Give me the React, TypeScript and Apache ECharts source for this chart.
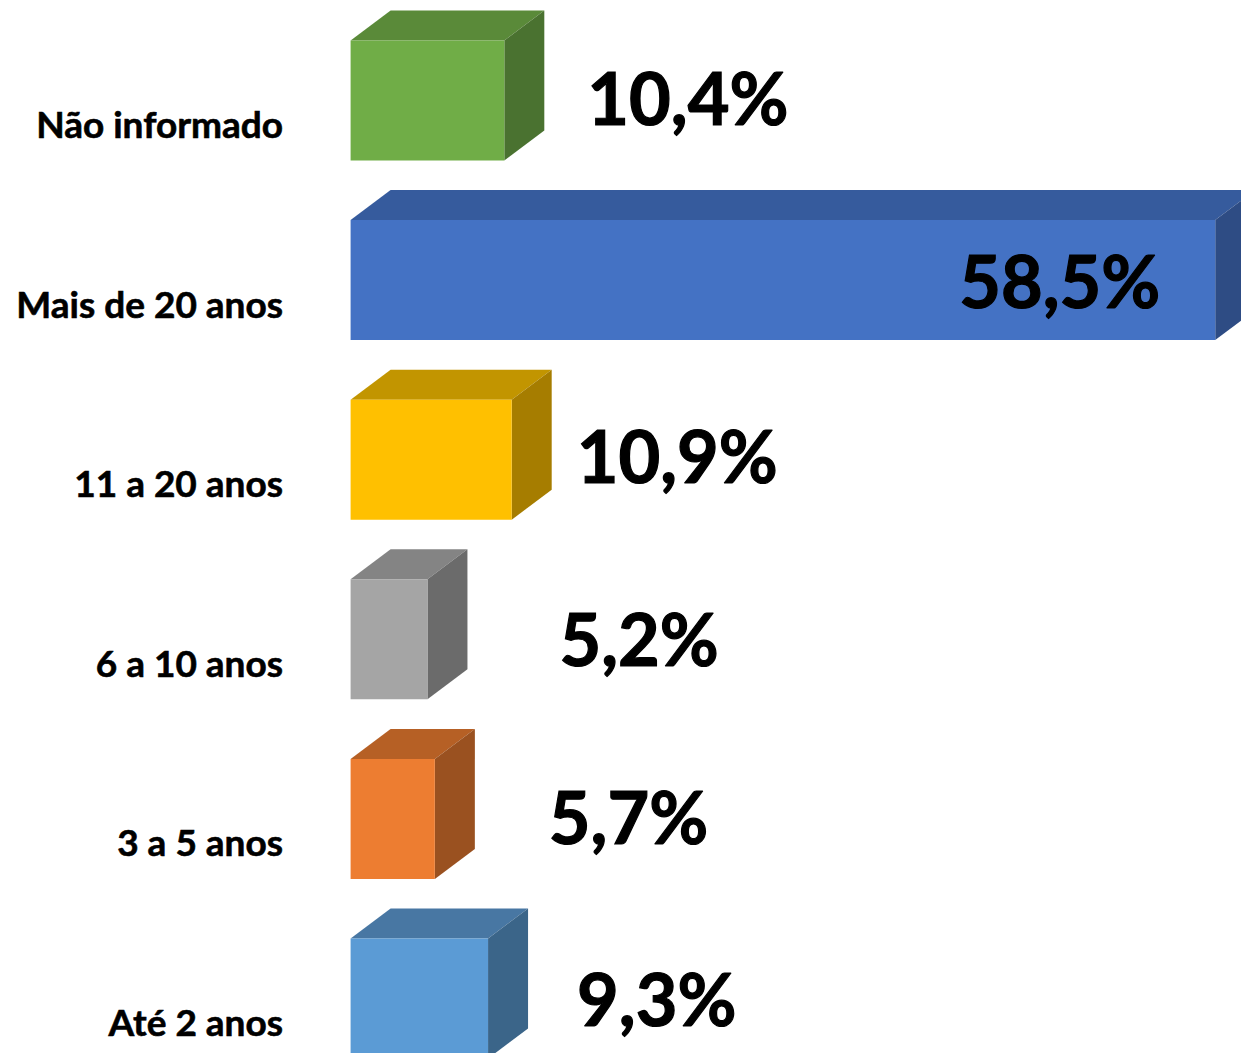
import React, { useEffect, useRef } from "react";
import * as echarts from "echarts";

const categories = ["Não informado", "Mais de 20 anos", "11 a 20 anos", "6 a 10 anos", "3 a 5 anos", "Até 2 anos"];
const values = [10.4, 58.5, 10.9, 5.2, 5.7, 9.3];
const valueLabels = ["10,4%", "58,5%", "10,9%", "5,2%", "5,7%", "9,3%"];
const frontColors = ["#70AD47", "#4472C4", "#FFC000", "#A5A5A5", "#ED7D31", "#5B9BD5"];
const topColors = ["#5A8A39", "#365B9D", "#C29500", "#848484", "#B66025", "#4877A3"];
const sideColors = ["#4A7230", "#2E4C84", "#A67D00", "#6B6B6B", "#9A5120", "#3B6589"];
// label left edge, relative to the end of the front face
const labelGaps = [83, -256, 65, 132, 114, 89];
const labelDy = [-4, 0, -5, -1, -3, -1];

const DX = 40;
const DY = 30;
const BAR_H = 120;

export default function App() {
  const ref = useRef<HTMLDivElement>(null);
  useEffect(() => {
    document.body.style.margin = "0";
    const chart = echarts.init(ref.current!, undefined, { renderer: "svg" });
    chart.setOption({
      animation: false,
      backgroundColor: "#ffffff",
      grid: { left: 350.6, top: 10.7, width: 886.8, height: 1077.6, containLabel: false, outerBoundsMode: "none" },
      xAxis: { type: "value", min: 0, max: 60, show: false },
      yAxis: {
        type: "category",
        inverse: true,
        data: categories,
        axisLine: { show: false },
        axisTick: { show: false },
        axisLabel: {
          margin: 67.6,
          color: "#000000",
          fontFamily: "Lato",
          fontWeight: 700,
          fontSize: 37,
          lineHeight: 38,
          verticalAlign: "top",
          padding: [4, 0, 0, 0],
          textBorderColor: "#000000",
          textBorderWidth: 0.6,
        },
      },
      series: [
        {
          type: "custom",
          clip: false,
          data: values.map((v, i) => [v, i]),
          encode: { x: 0, y: 1 },
          renderItem: (params: any, api: any) => {
            const i = params.dataIndex;
            const end = api.coord([api.value(0), api.value(1)]);
            const start = api.coord([0, api.value(1)]);
            const x0 = start[0];
            const x1 = end[0];
            const y0 = end[1] - BAR_H / 2;
            const y1 = end[1] + BAR_H / 2;
            return {
              type: "group",
              children: [
                {
                  type: "polygon",
                  shape: { points: [[x0, y0], [x1, y0], [x1 + DX, y0 - DY], [x0 + DX, y0 - DY]] },
                  style: { fill: topColors[i] },
                },
                {
                  type: "polygon",
                  shape: { points: [[x1, y0], [x1 + DX, y0 - DY], [x1 + DX, y1 - DY], [x1, y1]] },
                  style: { fill: sideColors[i] },
                },
                {
                  type: "rect",
                  shape: { x: x0, y: y0, width: x1 - x0, height: y1 - y0 },
                  style: { fill: frontColors[i] },
                },
                {
                  type: "text",
                  x: x1 + labelGaps[i],
                  y: end[1] + labelDy[i],
                  style: {
                    text: valueLabels[i],
                    fill: "#000000",
                    stroke: "#000000",
                    lineWidth: 1.2,
                    fontFamily: "Lato",
                    fontWeight: 700,
                    fontSize: 72,
                    align: "left",
                    verticalAlign: "middle",
                  },
                },
              ],
            };
          },
        },
      ],
    });
    return () => chart.dispose();
  }, []);
  return <div ref={ref} style={{ width: 1241, height: 1053 }} />;
}
